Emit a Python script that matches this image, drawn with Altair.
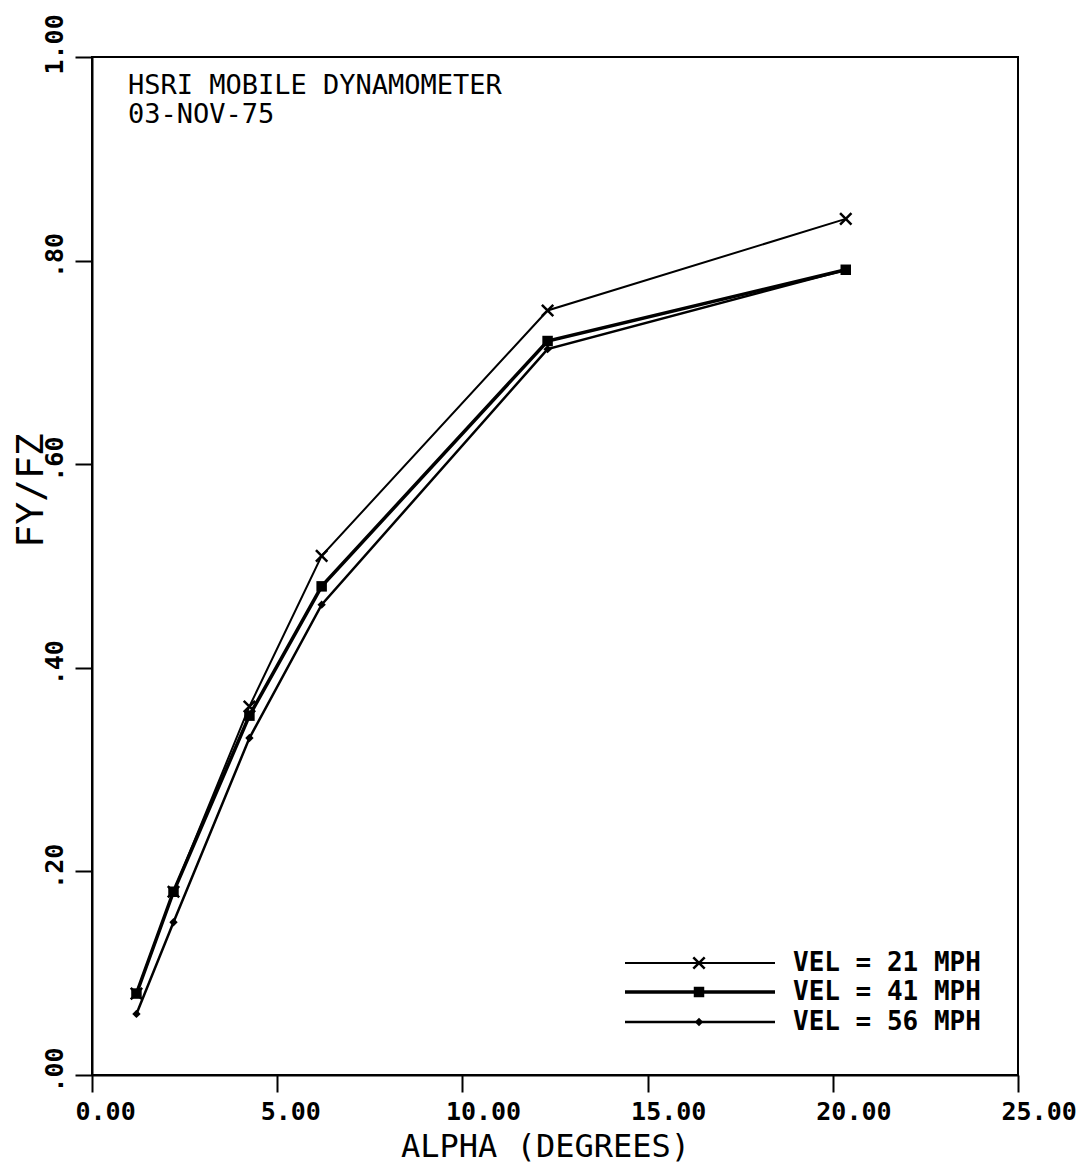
import altair as alt
import pandas as pd

# ---- data ----
alpha = [1.2, 2.2, 4.25, 6.2, 12.3, 20.35]
fy_21 = [0.08, 0.18, 0.362, 0.51, 0.751, 0.841]
fy_41 = [0.08, 0.18, 0.353, 0.480, 0.721, 0.791]
fy_56 = [0.06, 0.15, 0.331, 0.462, 0.713, 0.791]
series_labels = ["VEL = 21 MPH", "VEL = 41 MPH", "VEL = 56 MPH"]
x_ticks = [0, 5, 10, 15, 20, 25]
y_ticks = [0, 0.2, 0.4, 0.6, 0.8, 1.0]
header = ["HSRI MOBILE DYNAMOMETER", "03-NOV-75"]

MONO = "DejaVu Sans Mono"

rows = []
for lab, vals in zip(series_labels, [fy_21, fy_41, fy_56]):
    for a, v in zip(alpha, vals):
        rows.append({"series": lab, "alpha": a, "fy": v})
df = pd.DataFrame(rows)

x_enc = alt.X(
    "alpha:Q",
    scale=alt.Scale(domain=[0, 25], nice=False, zero=False),
    axis=alt.Axis(
        values=x_ticks, format=".2f", grid=False,
        labelAngle=0, labelAlign="left", labelBaseline="top",
        labelOffset=-17, labelPadding=7, labelFlush=False, labelOverlap=False,
        labelFont=MONO, labelFontSize=25, labelFontWeight="bold", labelColor="black",
        tickSize=17, tickWidth=2, tickColor="black",
        domainColor="black", domainWidth=2,
        title="ALPHA (DEGREES)", titleFont=MONO, titleFontSize=32,
        titleFontWeight="normal", titleColor="black",
        titleX=453, titleY=71, titleAlign="center", titleBaseline="middle",
    ),
)
y_enc = alt.Y(
    "fy:Q",
    scale=alt.Scale(domain=[0, 1], nice=False),
    axis=alt.Axis(
        values=y_ticks, grid=False,
        labelExpr="datum.value == 1 ? '1.00' : replace(format(datum.value, '.2f'), '0.', '.')",
        labelAngle=270, labelAlign="left", labelBaseline="bottom",
        labelOffset=17, labelPadding=8, labelFlush=False, labelOverlap=False,
        labelFont=MONO, labelFontSize=25, labelFontWeight="bold", labelColor="black",
        tickSize=17, tickWidth=2, tickColor="black",
        domainColor="black", domainWidth=2,
        title="FY/FZ", titleFont=MONO, titleFontSize=38,
        titleFontWeight="normal", titleColor="black", titleAngle=270,
        titleX=-61, titleY=433, titleAlign="center", titleBaseline="middle",
    ),
)

base = alt.Chart(df)
line_widths = [2, 3.5, 2.5]
markers = [
    dict(shape="M-1,-1L1,1M-1,1L1,-1", filled=False, size=130, strokeWidth=2.5),
    dict(shape="square", filled=True, size=110),
    dict(shape="diamond", filled=True, size=70),
]

layers = []
for lab, lw, mk in zip(series_labels, line_widths, markers):
    sub = base.transform_filter(alt.datum.series == lab)
    layers.append(sub.mark_line(color="black", strokeWidth=lw).encode(x=x_enc, y=y_enc))
    layers.append(sub.mark_point(color="black", opacity=1, **mk).encode(x=x_enc, y=y_enc))

# legend drawn by hand (line with marker in the middle)
legend_y = [906, 935, 965]
for lab, lw, mk, ly in zip(series_labels, line_widths, markers, legend_y):
    ld = alt.Chart(pd.DataFrame({"label": [lab]}))
    layers.append(ld.mark_rule(color="black", strokeWidth=lw).encode(
        x=alt.value(533), x2=alt.value(683), y=alt.value(ly)))
    layers.append(ld.mark_point(color="black", opacity=1, **mk).encode(
        x=alt.value(607), y=alt.value(ly)))
    layers.append(ld.mark_text(
        align="left", baseline="middle", font=MONO, fontSize=26,
        fontWeight="bold", color="black").encode(
        x=alt.value(701), y=alt.value(ly), text="label:N"))

# header annotation
hd = alt.Chart(pd.DataFrame({"text": header, "line": [0, 1]}))
for i, ty in enumerate([37, 66]):
    layers.append(
        hd.transform_filter(alt.datum.line == i).mark_text(
            align="left", baseline="alphabetic", font=MONO, fontSize=27,
            color="black").encode(x=alt.value(36), y=alt.value(ty), text="text:N"))

chart = alt.layer(*layers).properties(
    width=926, height=1018,
    autosize=alt.AutoSizeParams(type="none"),
    padding={"left": 84, "top": 49, "right": 59, "bottom": 88},
    background="white",
).configure_view(stroke="black", strokeWidth=2)

chart.save("out.html", embed_options={"renderer": "svg", "actions": False})
